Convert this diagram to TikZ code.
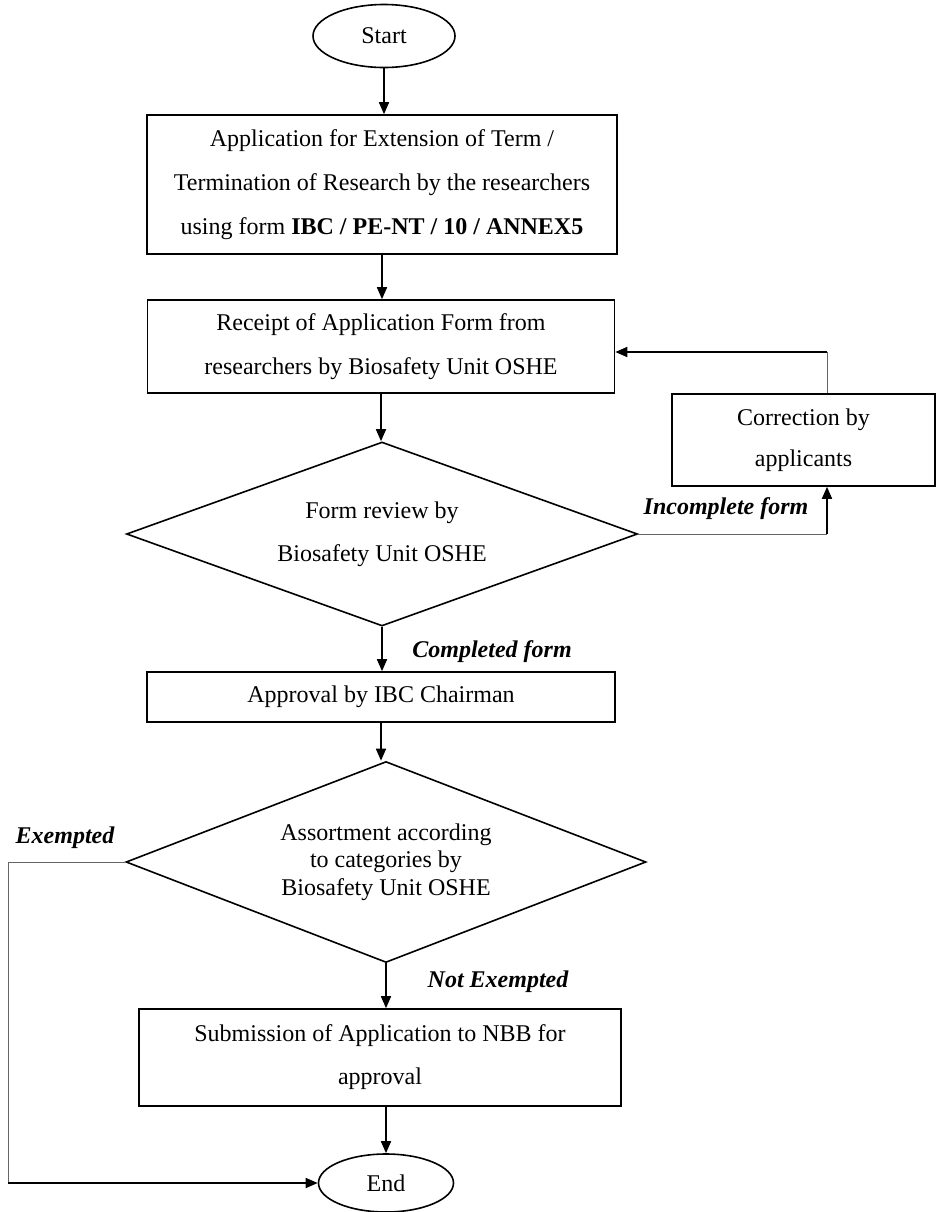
\documentclass[tikz,border=0pt]{standalone}
\usepackage{fontspec}
\setmainfont{Liberation Serif}
\usetikzlibrary{shapes.geometric,arrows.meta}

\tikzset{
  flowbox/.style={draw,line width=0.8pt,rectangle,inner sep=2pt,align=center,font=\fontsize{12}{22}\selectfont},
  terminal/.style={draw,line width=0.8pt,ellipse,inner sep=0pt,font=\fontsize{12}{14}\selectfont},
  decision/.style={draw,line width=0.8pt,diamond,inner sep=0pt,align=center},
  arrowline/.style={line width=0.8pt,-{Triangle[length=6pt,width=5pt]}},
  thinline/.style={line width=0.5pt,draw=black!60},
  edgelabel/.style={font=\fontsize{12}{14}\selectfont\bfseries\itshape}
}

\begin{document}
\begin{tikzpicture}[x=0.5pt,y=-0.5pt]
\useasboundingbox (0,0) rectangle (936,1212);
% main column
\node[terminal,minimum width=71pt,minimum height=31.5pt] (start) at (384,36) {Start};
\node[flowbox,minimum width=235pt,minimum height=69.5pt] (apply) at (382,184.5) {Application for Extension of Term /\\Termination of Research by the researchers\\using form \textbf{IBC / PE-NT / 10 / ANNEX5}};
\node[flowbox,minimum width=233.5pt,minimum height=46.5pt] (receipt) at (381,346.5) {Receipt of Application Form from\\researchers by Biosafety Unit OSHE};
\node[decision,shape aspect=2.78,minimum width=255.5pt,minimum height=92pt,font=\fontsize{12}{21.5}\selectfont] (review) at (382,534) {Form review by\\Biosafety Unit OSHE};
\node[flowbox,minimum width=131.5pt,minimum height=46pt,font=\fontsize{12}{20.5}\selectfont] (correct) at (803.5,440) {Correction by\\applicants};
\node[flowbox,minimum width=234pt,minimum height=25pt] (chair) at (381,697) {Approval by IBC Chairman};
\node[decision,shape aspect=2.6,minimum width=260pt,minimum height=100.5pt,font=\fontsize{12}{13.75}\selectfont] (sort) at (386,862) {Assortment according\\to categories by\\Biosafety Unit OSHE};
\node[flowbox,minimum width=241pt,minimum height=48.5pt,font=\fontsize{12}{21.5}\selectfont] (nbb) at (380,1057.5) {Submission of Application to NBB for\\approval};
\node[terminal,minimum width=67.5pt,minimum height=29pt] (end) at (386,1183) {End};

% arrows down the column
\draw[arrowline] (start.south) -- (start.south |- apply.north);
\draw[arrowline] (apply.south) -- (apply.south |- receipt.north);
\draw[arrowline] (receipt.south) -- (receipt.south |- review.north);
\draw[arrowline] (review.south) -- (review.south |- chair.north);
\draw[arrowline] (chair.south) -- (chair.south |- sort.north);
\draw[arrowline] (sort.south) -- (sort.south |- nbb.north);
\draw[arrowline] (sort.south |- nbb.south) -- (end.north);

% correction loop
\coordinate (loopa) at (827,534);
\coordinate (loopb) at (827,352);
\draw[thinline] (review.east) -- (loopa);
\draw[arrowline] (loopa) -- (loopa |- correct.south);
\draw[thinline] (loopb |- correct.north) -- (loopb);
\draw[arrowline] (loopb) -- (loopb -| receipt.east);

% exempted path
\coordinate (exa) at (8,862);
\draw[thinline] (sort.west) -- (exa) -- (exa |- end.west);
\draw[arrowline] (exa |- end.west) -- (end.west);

% labels
\node[edgelabel] (incomplete) at (726,509) {Incomplete form};
\node[edgelabel] (completed) at (492,652) {Completed form};
\node[edgelabel] (exempted) at (65,838) {Exempted};
\node[edgelabel] (notexempted) at (498,982) {Not Exempted};
\end{tikzpicture}
\end{document}
